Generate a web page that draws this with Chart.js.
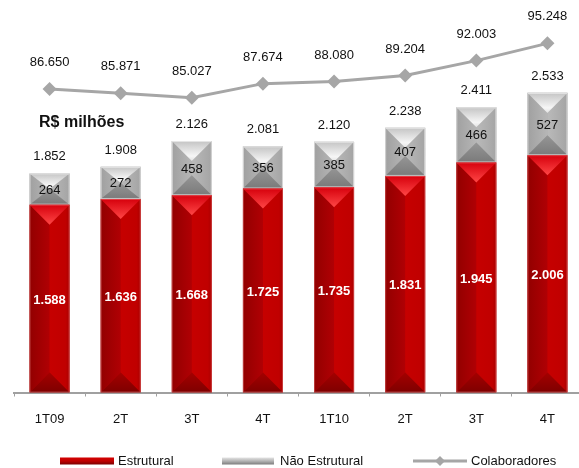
<!DOCTYPE html>
<html><head><meta charset="utf-8">
<script src="https://cdn.jsdelivr.net/npm/chart.js@4"></script>
<style>
html,body{margin:0;padding:0;background:#fff;overflow:hidden;width:579px;height:468px}
#wrap{width:579px;height:468px;overflow:hidden;position:relative}
canvas{display:block}
</style></head>
<body><div id="wrap"><canvas id="c" width="583" height="468" style="width:583px;height:468px"></canvas></div>
<script>
const categories = ['1T09','2T','3T','4T','1T10','2T','3T','4T'];
const estrutural = [1588,1636,1668,1725,1735,1831,1945,2006];
const naoEstrutural = [264,272,458,356,385,407,466,527];
const colaboradores = [86650,85871,85027,87674,88080,89204,92003,95248];
const seriesNames = ['Estrutural','Não Estrutural','Colaboradores'];
const unitLabel = 'R$ milhões';

const FONT = '"Liberation Sans", Arial, Helvetica, sans-serif';
function fmt(n){ return String(n).replace(/\B(?=(\d{3})+(?!\d))/g,'.'); }

function lg(ctx,ax,ay,bx,by,stops){const g=ctx.createLinearGradient(ax,ay,bx,by);stops.forEach(s=>g.addColorStop(s[0],s[1]));return g;}
function poly(ctx,pts,fill){ctx.beginPath();ctx.moveTo(pts[0][0],pts[0][1]);for(let i=1;i<pts.length;i++)ctx.lineTo(pts[i][0],pts[i][1]);ctx.closePath();ctx.fillStyle=fill;ctx.fill();}
function bevel(ctx,x0,x1,yt,yb,f){
  const w=x1-x0,h=yb-yt; if(h<=0.5) return;
  const d=Math.min(w/2,h/2),cx=(x0+x1)/2,ya=yt+d,yc=yb-d;
  poly(ctx,[[x0,yt],[cx,ya],[cx,yc],[x0,yb]],lg(ctx,x0,0,cx,0,f.left));
  poly(ctx,[[x1,yt],[cx,ya],[cx,yc],[x1,yb]],lg(ctx,cx,0,x1,0,f.right));
  poly(ctx,[[x0,yt],[x1,yt],[cx,ya]],lg(ctx,0,yt,0,ya,f.top));
  poly(ctx,[[x0,yb],[x1,yb],[cx,yc]],lg(ctx,0,yc,0,yb,f.bottom));
  if(f.edge){ctx.strokeStyle=f.edge;ctx.lineWidth=1;ctx.strokeRect(x0+0.5,yt+0.5,w-1,h-1);}
}
const RED={left:[[0,'#920000'],[1,'#b00004']],right:[[0,'#c60000'],[0.8,'#c00000'],[1,'#aa0000']],
  top:[[0,'#d6000c'],[1,'#ff4646']],bottom:[[0,'#a40000'],[1,'#7e0000']],edge:'rgba(255,170,170,0.35)'};
const GRAY={left:[[0,'#a0a0a0'],[1,'#b6b6b6']],right:[[0,'#bababa'],[1,'#a4a4a4']],
  top:[[0,'#c4c4c4'],[0.75,'#f6f6f6'],[1,'#e2e2e2']],bottom:[[0,'#969696'],[1,'#7a7a7a']],edge:'rgba(255,255,255,0.55)'};

const bevelPlugin={id:'bevel',afterDatasetDraw(chart,args){
  const meta=args.meta; if(meta.type!=='bar') return;
  const ctx=chart.ctx; const f=args.index===0?RED:GRAY;
  ctx.save();
  meta.data.forEach(el=>{const p=el.getProps(['x','y','base','width'],true);
    bevel(ctx,p.x-p.width/2,p.x+p.width/2,Math.min(p.y,p.base),Math.max(p.y,p.base),f);});
  ctx.restore();
}};

const labelPlugin={id:'labels',afterDraw(chart){
  const ctx=chart.ctx; ctx.save();
  ctx.textAlign='center'; ctx.textBaseline='middle';
  const m0=chart.getDatasetMeta(0),m1=chart.getDatasetMeta(1),m2=chart.getDatasetMeta(2);
  m0.data.forEach((el,i)=>{ctx.font='bold 13px '+FONT;ctx.fillStyle='#ffffff';
    ctx.fillText(fmt(estrutural[i]),el.x,(el.y+el.base)/2+1.5);});
  m1.data.forEach((el,i)=>{ctx.font='13px '+FONT;ctx.fillStyle='#111';
    ctx.fillText(fmt(naoEstrutural[i]),el.x,(el.y+el.base)/2+1);
    ctx.fillText(fmt(estrutural[i]+naoEstrutural[i]),el.x,el.y-16.5);});
  m2.data.forEach((el,i)=>{ctx.font='13px '+FONT;ctx.fillStyle='#111';
    ctx.fillText(fmt(colaboradores[i]),el.x,el.y-26.5);});
  ctx.font='bold 16px '+FONT; ctx.textAlign='left'; ctx.fillStyle='#111';
  ctx.fillText(unitLabel,39,123);
  // legend
  const ly=461; ctx.font='13px '+FONT;
  ctx.fillStyle=lg(ctx,0,ly-3.5,0,ly+3.5,[[0,'#d40000'],[0.5,'#c00000'],[1,'#7a0000']]);
  ctx.fillRect(60,ly-3.5,54,7);
  ctx.fillStyle=lg(ctx,0,ly-3.5,0,ly+3.5,[[0,'#e4e4e4'],[0.5,'#b4b4b4'],[1,'#7c7c7c']]);
  ctx.fillRect(222,ly-3.5,52,7);
  ctx.strokeStyle='#a6a6a6';ctx.lineWidth=3;ctx.beginPath();ctx.moveTo(413,ly);ctx.lineTo(467,ly);ctx.stroke();
  ctx.fillStyle='#a6a6a6';ctx.beginPath();ctx.moveTo(440,ly-5);ctx.lineTo(445,ly);ctx.lineTo(440,ly+5);ctx.lineTo(435,ly);ctx.closePath();ctx.fill();
  ctx.fillStyle='#111';
  ctx.fillText(seriesNames[0],118,ly);ctx.fillText(seriesNames[1],280,ly);ctx.fillText(seriesNames[2],471,ly);
  ctx.restore();
}};

new Chart(document.getElementById('c'),{
  data:{labels:categories,datasets:[
    {type:'bar',label:seriesNames[0],data:estrutural,backgroundColor:'#b00000',borderWidth:0,
     categoryPercentage:1,barPercentage:0.563,order:2,yAxisID:'y'},
    {type:'bar',label:seriesNames[1],data:naoEstrutural,backgroundColor:'#aaaaaa',borderWidth:0,
     categoryPercentage:1,barPercentage:0.563,order:2,yAxisID:'y'},
    {type:'line',label:seriesNames[2],data:colaboradores,yAxisID:'y2',borderColor:'#a6a6a6',borderWidth:3,
     pointStyle:'rectRot',pointRadius:7,pointHoverRadius:7,pointBackgroundColor:'#a6a6a6',pointBorderWidth:0,
     tension:0,order:0,clip:false}
  ]},
  options:{responsive:false,devicePixelRatio:1,animation:false,
    layout:{autoPadding:false,padding:{left:14,right:0,top:0,bottom:35.5}},
    plugins:{legend:{display:false},tooltip:{enabled:false}},
    scales:{
      x:{stacked:true,offset:true,
        grid:{display:true,drawOnChartArea:false,drawTicks:true,tickLength:4,color:'#a0a0a0',lineWidth:1,offset:true},
        border:{display:true,color:'#a0a0a0',width:2},
        ticks:{font:{family:FONT,size:13},color:'#111',padding:15,maxRotation:0,autoSkip:false},
        afterFit(s){s.height=40;}},
      y:{stacked:true,display:false,min:0,max:3318},
      y2:{display:false,min:29600,max:103400}
    }
  },
  plugins:[bevelPlugin,labelPlugin]
});
</script>
</body></html>
